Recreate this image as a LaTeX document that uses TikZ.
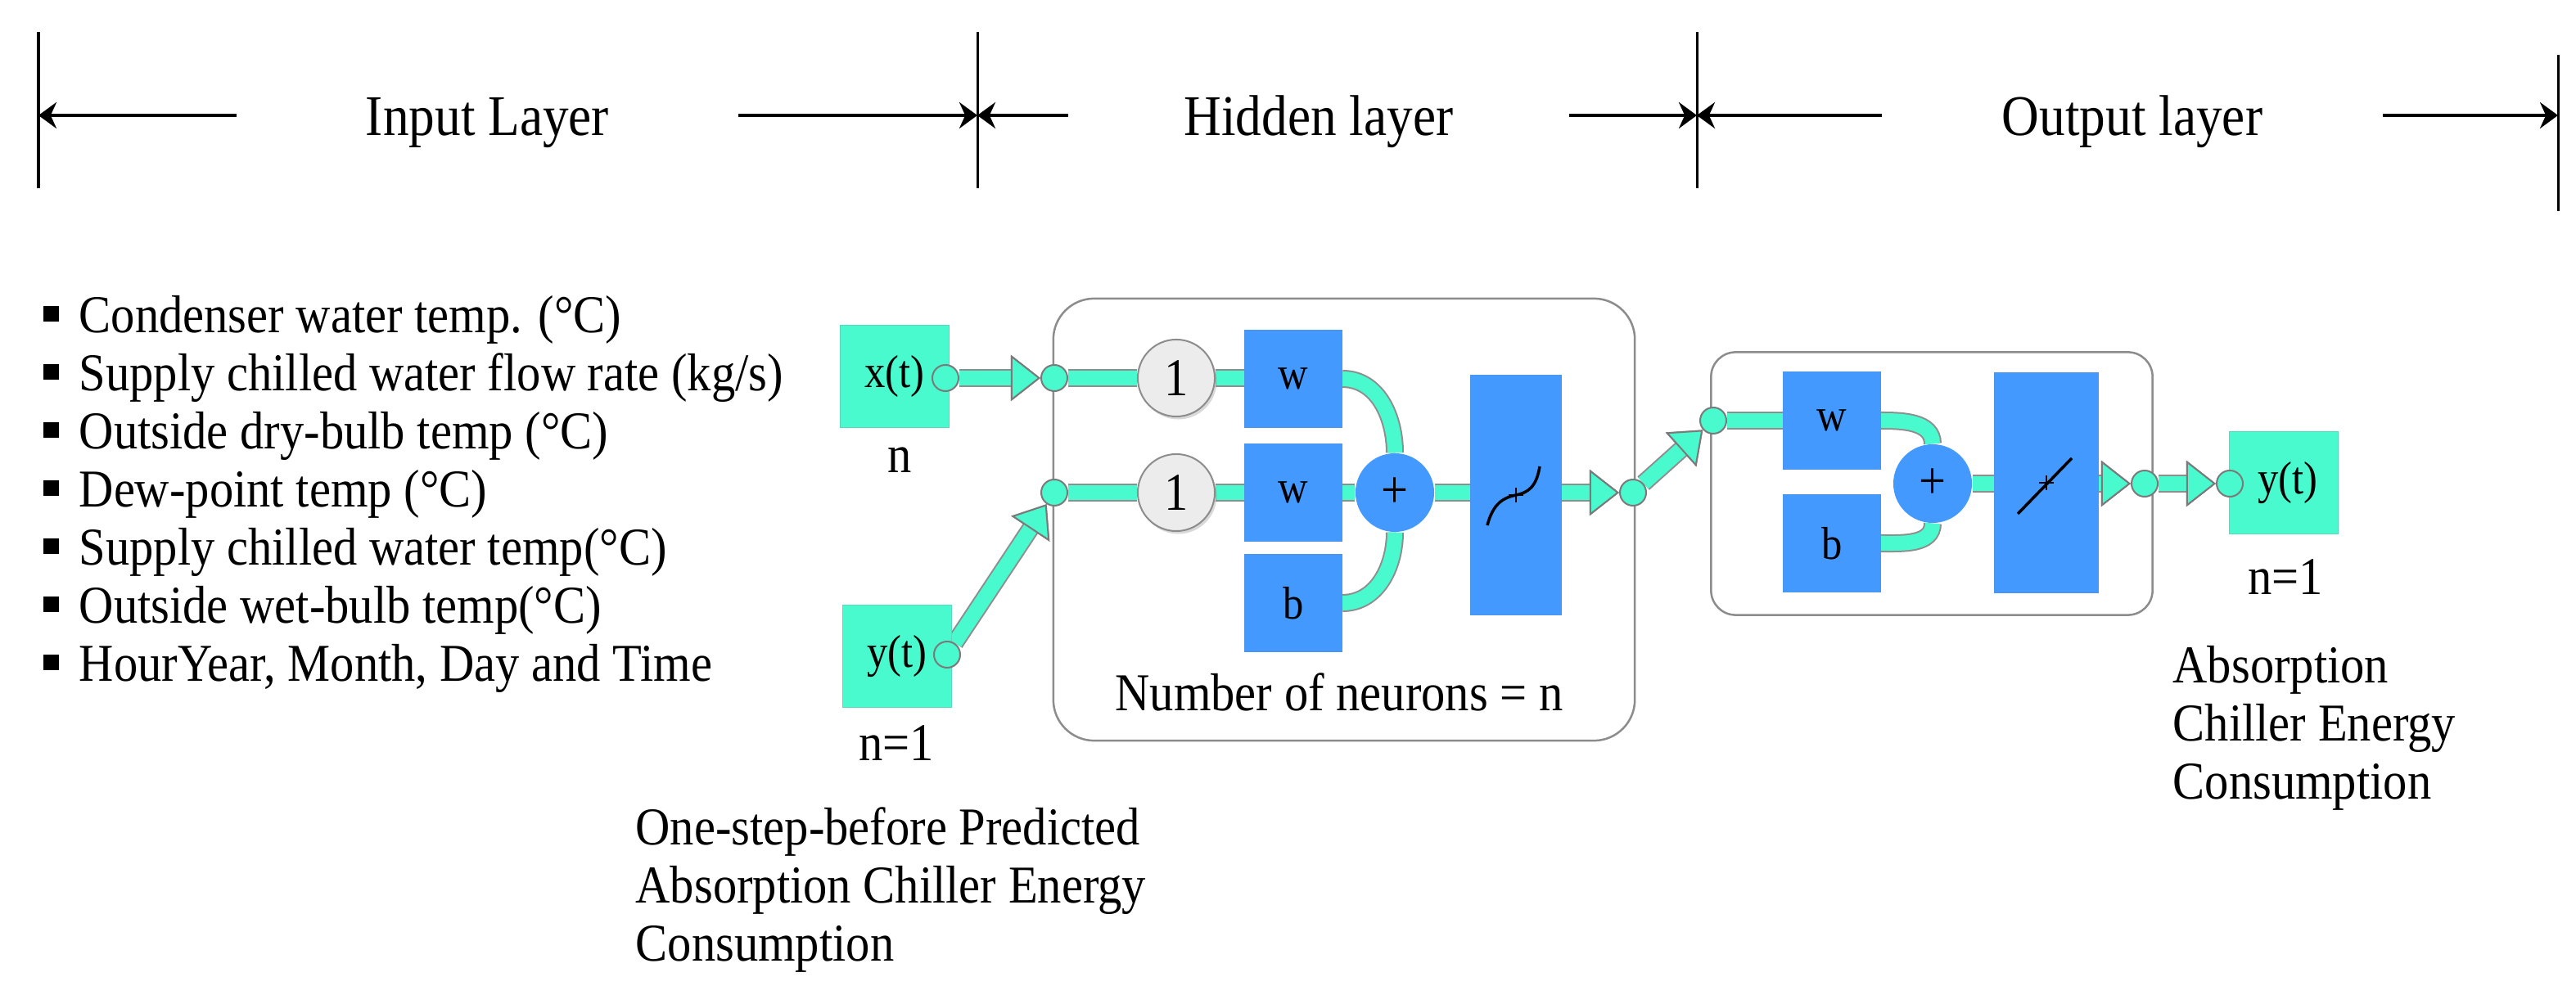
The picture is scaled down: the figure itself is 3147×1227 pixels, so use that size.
\documentclass[tikz,border=0pt]{standalone}
\usepackage{fontspec}
\setmainfont{Liberation Serif}[FakeStretch=0.9]
\usepackage{tikz}
\usetikzlibrary{arrows.meta,positioning,backgrounds,shadows}
\usepackage{xcolor}
\definecolor{Aqua}{HTML}{48FACD}
\definecolor{NetBlue}{HTML}{4499FF}
\definecolor{EdgeGray}{HTML}{7A7A7A}
\definecolor{RimGray}{HTML}{8C8C8C}
\definecolor{OneGray}{HTML}{ECECEC}
\newcommand{\sqb}{\rule[0.14cm]{0.19cm}{0.19cm}\hspace{0.25cm}}

\begin{document}
\begin{tikzpicture}[
  x=0.01cm, y=0.01cm,
  every node/.style={font=\fontsize{18.5}{20.2}\selectfont},
  lbl/.style={font=\fontsize{20}{24}\selectfont, minimum width=6.11cm,
              text height=0.62cm, text depth=0.12cm, inner sep=0},
  dimarrow/.style={line width=0.045cm, -{Stealth[length=0.22cm, width=0.32cm]}},
  tickline/.style={line width=0.03cm},
  port/.style={circle, fill=Aqua, draw=EdgeGray, line width=0.02cm,
               minimum size=0.32cm, inner sep=0},
  iobox/.style={rectangle, fill=Aqua, draw=Aqua!75!gray, line width=0.01cm,
                minimum width=1.32cm, minimum height=1.25cm, inner sep=0,
                font=\fontsize{16}{18}\selectfont},
  wbox/.style={rectangle, fill=NetBlue, draw=NetBlue!85!gray, line width=0.01cm,
               minimum width=1.19cm, minimum height=1.18cm, inner sep=0,
               font=\fontsize{16}{18}\selectfont},
  fbox/.style={rectangle, fill=NetBlue, draw=NetBlue!85!gray, line width=0.01cm,
               minimum width=1.10cm, minimum height=2.93cm, inner sep=0},
  sumnode/.style={circle, fill=NetBlue, minimum size=0.96cm, inner sep=0},
  onenode/.style={circle, fill=OneGray, draw=RimGray, line width=0.02cm,
                  minimum size=0.94cm, inner sep=0,
                  drop shadow={shadow xshift=0.025cm, shadow yshift=-0.035cm, opacity=0.3}},
  layerbox/.style={rectangle, draw=RimGray, line width=0.025cm, inner sep=0},
  flow/.style={draw=Aqua, line width=0.18cm,
               preaction={draw=EdgeGray!85, line width=0.22cm}},
  flowarrow/.style={flow, -{Triangle[length=0.36cm, width=0.56cm, fill=Aqua,
                    color=EdgeGray, line width=0.02cm]}}
]
  \useasboundingbox (0,0) rectangle (3147,1227);

  % layer ruler
  \coordinate (d0) at (47,1086);
  \coordinate (d1) at (1194,1086);
  \coordinate (d2) at (2073,1086);
  \coordinate (d3) at (3125,1086);
  \draw[tickline] (47,997) -- (47,1188);
  \draw[tickline] (1194,997) -- (1194,1188);
  \draw[tickline] (2073,997) -- (2073,1188);
  \draw[tickline] (3125,969) -- (3125,1160);
  \node[lbl] (inlab)  at (595.5,1086) {Input Layer};
  \node[lbl] (hidlab) at (1611,1086)  {Hidden layer};
  \node[lbl] (outlab) at (2605,1086)  {Output layer};
  \draw[dimarrow] (inlab.west)  -- (d0);
  \draw[dimarrow] (inlab.east)  -- (d1);
  \draw[dimarrow] (hidlab.west) -- (d1);
  \draw[dimarrow] (hidlab.east) -- (d2);
  \draw[dimarrow] (outlab.west) -- (d2);
  \draw[dimarrow] (outlab.east) -- (d3);

  % input variables
  \foreach \txt [count=\i] in {{Condenser water temp. (°C)},
      {Supply chilled water flow rate (kg/s)}, {Outside dry-bulb temp (°C)},
      {Dew-point temp (°C)}, {Supply chilled water temp(°C)},
      {Outside wet-bulb temp(°C)}, {HourYear, Month, Day and Time}}
    \node[anchor=base west, inner sep=0] (var\i) at (52,{891-71*\i}) {\sqb\txt};

  % network
  \node[layerbox, minimum width=7.10cm, minimum height=5.40cm, rounded corners=0.5cm] (hidbox) at (1642,592) {};
  \node[layerbox, minimum width=5.39cm, minimum height=3.21cm, rounded corners=0.3cm] (outbox) at (2360,636) {};

  \node[iobox] (xin) at (1093,767) {x(t)};
  \node[port]  (xo)  at (1155,765) {};
  \node[anchor=base] (xn) at (1099,649) {n};
  \node[iobox] (yfb) at (1096,425) {y(t)};
  \node[port]  (yo)  at (1157,427) {};
  \node[anchor=base] (yn) at (1095,297) {n=1};

  \node[port] (hi1) at (1288,765) {};
  \node[port] (hi2) at (1288,625) {};
  \node[onenode] (one1) at (1437,765) {1};
  \node[onenode] (one2) at (1437,625) {1};
  \node[wbox] (w1) at (1580,764) {w};
  \node[wbox] (w2) at (1580,625) {w};
  \node[wbox] (b1) at (1580,490) {b};
  \node[sumnode] (sum1) at (1704,625) {+};
  \node[fbox] (tf1) at (1852,622) {};
  \node[port] (ho) at (1995,625) {};
  \node[anchor=base] (nneur) at (1636,358) {Number of neurons = n};

  \node[port] (oi) at (2093,713) {};
  \node[wbox] (w3) at (2238,713) {w};
  \node[wbox] (b3) at (2238,563) {b};
  \node[sumnode] (sum2) at (2361,636) {+};
  \node[fbox, minimum width=1.26cm, minimum height=2.68cm] (tf2) at (2500,637) {};
  \node[port] (oo) at (2620,636) {};

  \node[iobox, minimum height=1.24cm] (yout) at (2790,637) {\hspace{0.1cm}y(t)};
  \node[port] (yi) at (2724,636) {};
  \node[anchor=base] (yon) at (2792,500) {n=1};
  \node[anchor=base west, align=left, inner sep=0] (tgtlab) at (2654,250)
    {Absorption\\Chiller Energy\\Consumption};
  \node[anchor=base west, align=left, inner sep=0] (prevlab) at (776,52)
    {One-step-before Predicted\\Absorption Chiller Energy\\Consumption};

  % transfer function marks
  \draw[line width=0.035cm] ([shift={(-35,-37)}]tf1.center)
    .. controls ([shift={(-28,-10)}]tf1.center) and ([shift={(-15,-3)}]tf1.center) .. (tf1.center)
    .. controls ([shift={(15,3)}]tf1.center) and ([shift={(25,10)}]tf1.center) .. ([shift={(29,35)}]tf1.center);
  \draw[line width=0.015cm] ([shift={(-9,0)}]tf1.center) -- ([shift={(9,0)}]tf1.center)
    ([shift={(0,-9)}]tf1.center) -- ([shift={(0,9)}]tf1.center);
  \draw[line width=0.035cm] ([shift={(-35,-38)}]tf2.center) -- ([shift={(31,30)}]tf2.center);
  \draw[line width=0.015cm] ([shift={(-9,0)}]tf2.center) -- ([shift={(9,0)}]tf2.center)
    ([shift={(0,-9)}]tf2.center) -- ([shift={(0,9)}]tf2.center);

  \begin{pgfonlayer}{background}
    \draw[flowarrow] (xo) -- (hi1);
    \draw[flowarrow] (yo) -- (hi2);
    \draw[flow] (hi1) -- (one1);
    \draw[flow] (hi2) -- (one2);
    \draw[flow] (one1) -- (one1 -| w1.west);
    \draw[flow] (one2) -- (w2);
    \draw[flow] (w2) -- (sum1);
    \draw[flow] (w1.east) to[out=0, in=90] (sum1.north);
    \draw[flow] (b1.east) to[out=0, in=-90] (sum1.south);
    \draw[flow] (sum1) -- (sum1 -| tf1.west);
    \draw[flowarrow] (tf1.east |- ho) -- (ho);
    \draw[flowarrow] (ho) -- (oi);
    \draw[flow] (oi) -- (w3);
    \draw[flow] (w3.east) to[out=0, in=90] (sum2.north);
    \draw[flow] (b3.east) to[out=0, in=-90] (sum2.south);
    \draw[flow] (sum2) -- (sum2 -| tf2.west);
    \draw[flowarrow] (tf2.east |- oo) -- (oo);
    \draw[flowarrow] (oo) -- (yi);
  \end{pgfonlayer}
\end{tikzpicture}
\end{document}
